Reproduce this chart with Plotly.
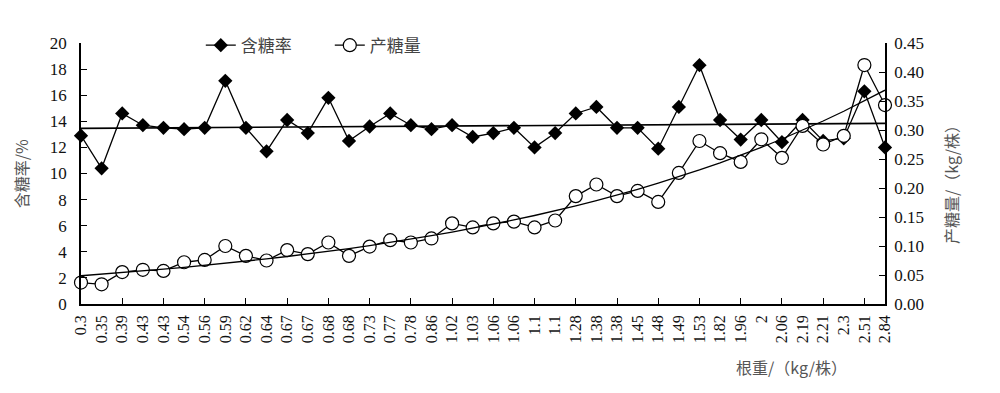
import numpy as np
import plotly.graph_objects as go

root_weight = ["0.3", "0.35", "0.39", "0.43", "0.43", "0.54", "0.56", "0.59", "0.62", "0.64",
               "0.67", "0.67", "0.68", "0.68", "0.73", "0.77", "0.78", "0.86", "1.02", "1.03",
               "1.06", "1.06", "1.1", "1.1", "1.28", "1.38", "1.38", "1.45", "1.48", "1.49",
               "1.53", "1.82", "1.96", "2", "2.06", "2.19", "2.21", "2.3", "2.51", "2.84"]

sugar_content = [12.9, 10.4, 14.6, 13.7, 13.5, 13.4, 13.5, 17.1, 13.5, 11.7,
                 14.1, 13.1, 15.8, 12.5, 13.6, 14.6, 13.7, 13.4, 13.7, 12.8,
                 13.1, 13.5, 12.0, 13.1, 14.6, 15.1, 13.5, 13.5, 11.9, 15.1,
                 18.3, 14.1, 12.6, 14.1, 12.4, 14.1, 12.5, 12.7, 16.3, 12.0]

sugar_yield = [0.037, 0.034, 0.055, 0.059, 0.057, 0.072, 0.076, 0.100, 0.083, 0.075,
               0.093, 0.086, 0.106, 0.083, 0.099, 0.110, 0.106, 0.113, 0.139, 0.132,
               0.139, 0.142, 0.132, 0.144, 0.186, 0.206, 0.186, 0.195, 0.176, 0.226,
               0.281, 0.260, 0.245, 0.284, 0.252, 0.307, 0.275, 0.290, 0.412, 0.343]

idx = np.arange(len(root_weight))

# trend lines (fitted on the category index, as in a spreadsheet line-chart trendline)
b1, a1 = np.polyfit(idx + 1, sugar_content, 1)
sugar_trend = a1 + b1 * (idx + 1)
b2, a2 = np.polyfit(idx + 1, np.log(sugar_yield), 1)
yield_trend = np.exp(a2 + b2 * (idx + 1))

serif = "Liberation Serif, Times New Roman, serif"
cjk = "Noto Sans CJK SC, sans-serif"

fig = go.Figure()
fig.add_trace(go.Scatter(x=idx, y=sugar_content, name="含糖率", mode="lines+markers",
                         line=dict(color="black", width=1.3),
                         marker=dict(symbol="diamond", size=11, color="black"),
                         cliponaxis=False, yaxis="y"))
fig.add_trace(go.Scatter(x=idx, y=sugar_yield, name="产糖量", mode="lines+markers",
                         line=dict(color="black", width=1.3),
                         marker=dict(symbol="circle", size=13, color="white",
                                     line=dict(color="black", width=1.2)),
                         cliponaxis=False, yaxis="y2"))
fig.add_trace(go.Scatter(x=idx, y=sugar_trend, mode="lines", showlegend=False,
                         line=dict(color="black", width=1.6), hoverinfo="skip", yaxis="y"))
fig.add_trace(go.Scatter(x=idx, y=yield_trend, mode="lines", showlegend=False,
                         line=dict(color="black", width=1.3), hoverinfo="skip", yaxis="y2"))
# helper trace for the tick-mark axis
fig.add_trace(go.Scatter(x=[idx[0]], y=[None], xaxis="x2", yaxis="y", showlegend=False,
                         hoverinfo="skip", mode="lines"))

fig.update_layout(
    width=992, height=385,
    margin=dict(l=73, r=115, t=35, b=89),
    paper_bgcolor="white", plot_bgcolor="white",
    showlegend=True,
    legend=dict(orientation="h", x=0.149, xanchor="left", y=0.99, yanchor="middle",
                font=dict(family=cjk, size=17, color="#444"),
                bgcolor="rgba(0,0,0,0)", entrywidth=84, tracegroupgap=0),
    xaxis=dict(range=[0, len(root_weight) - 1], tickmode="array", tickvals=idx,
               ticktext=root_weight, tickangle=-90, ticks="", showgrid=False,
               zeroline=False, showline=True, linecolor="black", linewidth=1.5,
               ticklabelstandoff=3,
               tickfont=dict(family=serif, size=16, color="#111")),
    xaxis2=dict(range=[0, len(root_weight) - 1], overlaying="x", tickmode="linear",
                tick0=0, dtick=2, ticks="inside", ticklen=6, tickwidth=1.3,
                tickcolor="black", showticklabels=False, showgrid=False,
                zeroline=False, showline=False, anchor="y", side="bottom"),
    yaxis=dict(range=[0, 20], dtick=2, ticks="inside", ticklen=6, tickwidth=1.3,
               tickcolor="black", showgrid=False, zeroline=False, showline=True,
               linecolor="black", linewidth=1.5, ticklabelstandoff=9,
               tickfont=dict(family=serif, size=17, color="#111")),
    yaxis2=dict(range=[0, 0.45], dtick=0.05, tickformat=".2f", overlaying="y",
                side="right", ticks="inside", ticklen=6, tickwidth=1.3,
                tickcolor="black", showgrid=False, zeroline=False, showline=True,
                linecolor="black", linewidth=1.5, ticklabelstandoff=4,
                tickfont=dict(family=serif, size=17, color="#111")),
    annotations=[
        dict(text="含糖率/%", xref="paper", yref="paper", x=-0.075, y=0.50,
             xanchor="center", yanchor="middle",
             textangle=-90, showarrow=False, font=dict(family=cjk, size=16, color="#555")),
        dict(text="产糖量/（kg/株）", xref="paper", yref="paper", x=1.082, y=0.475,
             xanchor="center", yanchor="middle",
             textangle=-90, showarrow=False, font=dict(family=cjk, size=16, color="#555")),
        dict(text="根重/（kg/株）", xref="paper", yref="paper", x=0.884, y=-0.241,
             xanchor="center", yanchor="middle",
             showarrow=False, font=dict(family=cjk, size=16, color="#555")),
    ],
)

fig.write_html("out.html")
